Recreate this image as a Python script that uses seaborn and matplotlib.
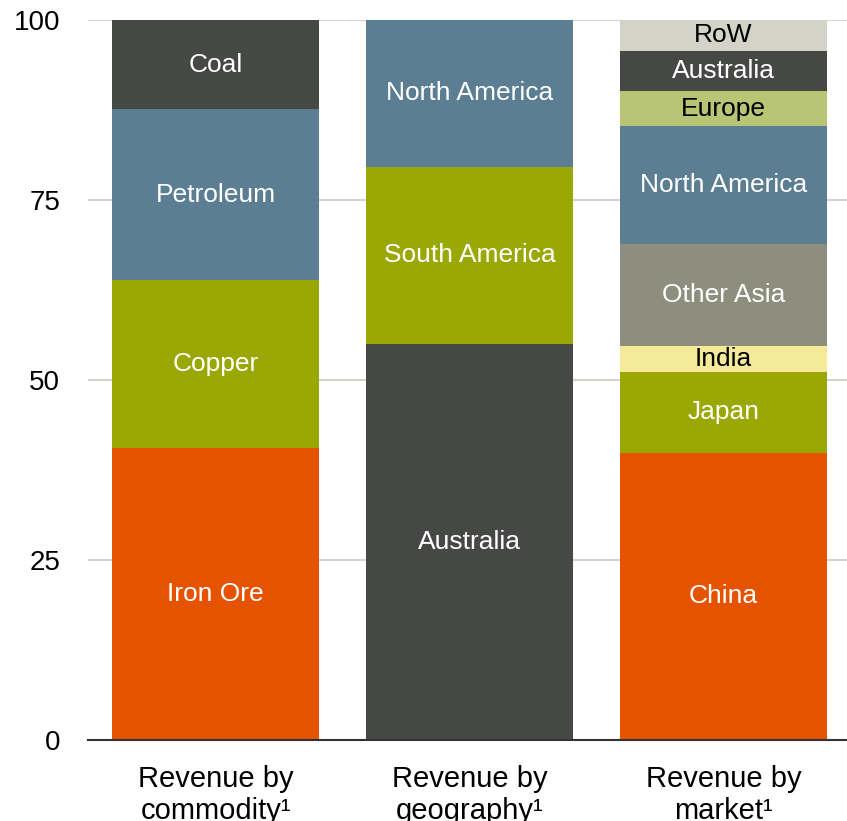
import matplotlib
matplotlib.use("Agg")
import matplotlib.pyplot as plt
import seaborn as sns
import numpy as np

# column categories
categories = ["Revenue by\ncommodity\u00b9", "Revenue by\ngeography\u00b9", "Revenue by\nmarket\u00b9"]

# segments per column, bottom to top (label, share %)
commodity_labels = ["Iron Ore", "Copper", "Petroleum", "Coal"]
commodity_values = [40.6, 23.3, 23.7, 12.4]

geography_labels = ["Australia", "South America", "North America"]
geography_values = [55.0, 24.6, 20.4]

market_labels = ["China", "Japan", "India", "Other Asia", "North America", "Europe", "Australia", "RoW"]
market_values = [39.9, 11.2, 3.6, 14.2, 16.4, 4.8, 5.6, 4.3]

colors = {
    "Iron Ore": "#E65300", "Copper": "#9AA806", "Petroleum": "#5B7E93", "Coal": "#464845",
    "Australia": "#464845", "South America": "#9AA806", "North America": "#5B7E93",
    "China": "#E65300", "Japan": "#9AA806", "India": "#F5E99A", "Other Asia": "#8E8E7F",
    "Europe": "#B8C574", "RoW": "#D3D3C8",
}
dark_text = {"India", "Europe", "RoW"}

sns.set_theme(style="white")
plt.rcParams["font.family"] = ["Liberation Sans", "DejaVu Sans"]

fig = plt.figure(figsize=(8.47, 8.21), dpi=100)
ax = fig.add_axes([88 / 847, 81 / 821, 1 - 88 / 847, 720 / 821])

columns = [
    (commodity_labels, commodity_values),
    (geography_labels, geography_values),
    (market_labels, market_values),
]

for ci, (labels, values) in enumerate(columns):
    tops = np.cumsum(values)
    bottoms = tops - np.array(values)
    # draw from the tallest cumulative bar down so lower segments sit on top
    for lab, top in reversed(list(zip(labels, tops))):
        sns.barplot(x=[categories[ci]], y=[top], order=categories, color=colors[lab],
                    width=0.815, saturation=1, linewidth=0, ax=ax)
    for lab, b, t in zip(labels, bottoms, tops):
        ax.text(ci, (b + t) / 2, lab, ha="center", va="center", fontsize=19,
                color="black" if lab in dark_text else "white")

ax.set_ylim(0, 100)
ax.set_xlim(-0.502, 2.486)
ax.set_yticks([0, 25, 50, 75, 100])
ax.yaxis.grid(True, color="#D4D4CE", linewidth=1.5)
ax.set_axisbelow(True)
for s in ["left", "right", "top"]:
    ax.spines[s].set_visible(False)
ax.spines["bottom"].set_color("#333333")
ax.spines["bottom"].set_linewidth(1.5)
ax.spines["bottom"].set_zorder(5)
ax.tick_params(axis="y", length=0, pad=20, labelsize=20, labelcolor="black")
ax.tick_params(axis="x", length=0, pad=18, labelsize=21, labelcolor="black")
for t in ax.get_xticklabels():
    t.set_linespacing(1.2)
ax.set_xlabel("")
ax.set_ylabel("")

fig.savefig("out.png", dpi=100)
